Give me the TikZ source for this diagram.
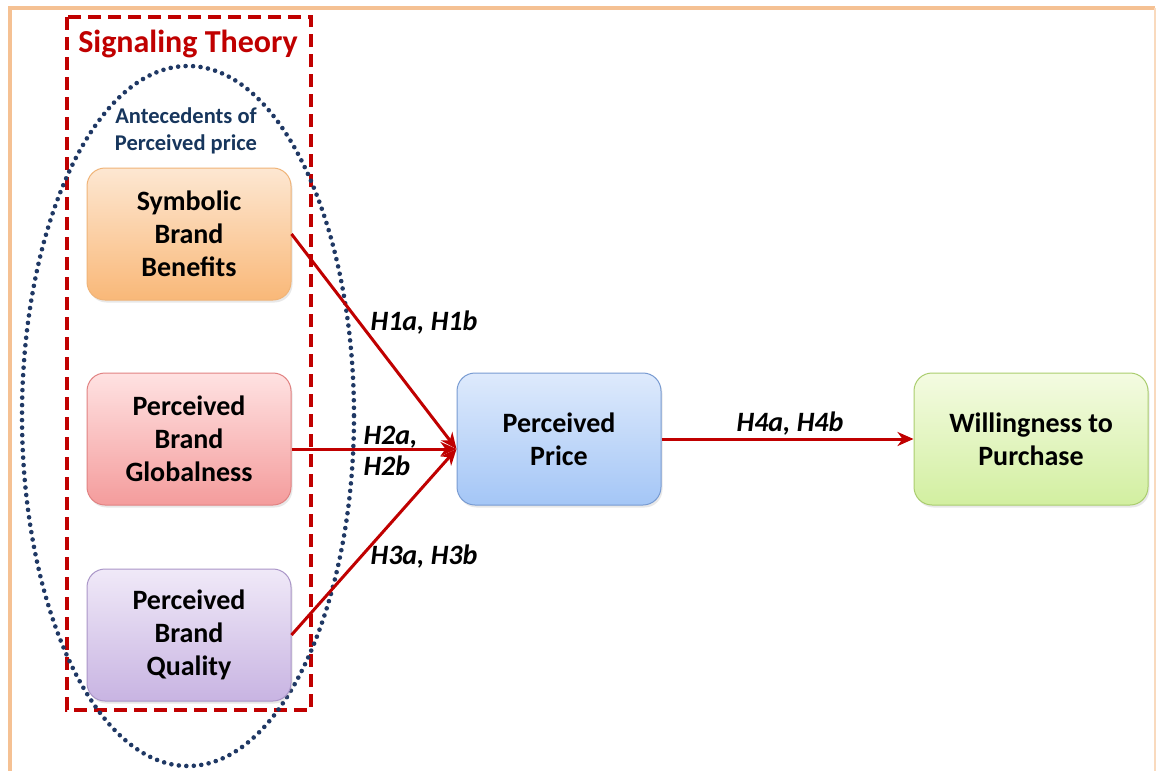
\documentclass[tikz,border=0pt]{standalone}
\usepackage{fontspec}
\setmainfont{Carlito}
\usetikzlibrary{arrows.meta,shadows}
\definecolor{framec}{RGB}{245,193,147}
\definecolor{darkred}{RGB}{192,0,0}
\definecolor{navy}{RGB}{31,56,100}
\definecolor{antec}{RGB}{23,54,93}
\definecolor{orD}{RGB}{240,180,120}
\definecolor{orT}{RGB}{253,231,210}
\definecolor{orB}{RGB}{249,184,120}
\definecolor{rdD}{RGB}{225,130,130}
\definecolor{rdT}{RGB}{255,226,226}
\definecolor{rdB}{RGB}{244,156,156}
\definecolor{puD}{RGB}{170,150,200}
\definecolor{puT}{RGB}{240,233,248}
\definecolor{puB}{RGB}{200,180,226}
\definecolor{blD}{RGB}{120,155,210}
\definecolor{blT}{RGB}{222,234,252}
\definecolor{blB}{RGB}{164,198,246}
\definecolor{grD}{RGB}{170,205,110}
\definecolor{grT}{RGB}{244,251,226}
\definecolor{grB}{RGB}{210,239,160}
\tikzset{
  box/.style={draw, rounded corners=18pt, minimum width=204pt, minimum height=132pt,
    align=center, font=\bfseries\fontsize{28}{33}\selectfont, text=black, line width=1pt,
    drop shadow={opacity=0.18, shadow xshift=1.5pt, shadow yshift=-2.5pt}},
  orangebox/.style={box, draw=orD, top color=orT, bottom color=orB},
  redbox/.style={box, draw=rdD, top color=rdT, bottom color=rdB},
  purplebox/.style={box, draw=puD, top color=puT, bottom color=puB},
  bluebox/.style={box, draw=blD, top color=blT, bottom color=blB},
  greenbox/.style={box, draw=grD, top color=grT, bottom color=grB},
  arr/.style={draw=darkred, line width=3pt, -{Stealth[length=16pt,width=14pt,inset=5pt]}},
  hlab/.style={font=\bfseries\itshape\fontsize{28}{31}\selectfont, text=black, align=left},
}
\begin{document}
\begin{tikzpicture}[x=1pt,y=-1pt]
\useasboundingbox (0,0) rectangle (1157,771);
\fill[white] (0,0) rectangle (1157,771);
% outer frame
\draw[framec, line width=3.5pt] (10,771) -- (10,8) -- (1155,8);
\draw[framec!60, line width=2pt] (1155,8) -- (1155,771);
% dashed signaling theory rectangle
\draw[darkred, line width=3.2pt, dash pattern=on 13pt off 7pt] (67,17) rectangle (311,710);
\node[text=darkred, font=\bfseries\fontsize{32}{34}\selectfont] (sig) at (188,44) {Signaling Theory};
% dotted ellipse
\draw[navy, line width=4.6pt, line cap=round, dash pattern=on 0pt off 7.5pt] (188,416) ellipse [x radius=166, y radius=350];
\node[text=antec, font=\bfseries\fontsize{22.5}{27}\selectfont, align=center] (ant) at (186,131) {Antecedents of\\Perceived price};
% boxes
\node[orangebox] (sym) at (189,234) {Symbolic\\Brand\\Benefits};
\node[redbox] (glob) at (189,439) {Perceived\\Brand\\Globalness};
\node[purplebox] (qual) at (189,635) {Perceived\\Brand\\Quality};
\node[bluebox] (price) at (559,439) {Perceived\\Price};
\node[greenbox, minimum width=234pt] (will) at (1031,439) {Willingness to\\Purchase};
% arrows
\coordinate (tip) at ([yshift=-10pt]price.west);
\coordinate (gstart) at ([yshift=-10pt]glob.east);
\draw[arr] (sym.east) -- (tip);
\draw[arr] (gstart) -- (tip);
\draw[arr] (qual.east) -- (tip);
\draw[arr] (price.east) -- (will.west);
% labels
\node[hlab] (h1) at (424,323) {H1a, H1b};
\node[hlab, anchor=west] (h2) at (360,451) {H2a,\\H2b};
\node[hlab] (h3) at (424,557) {H3a, H3b};
\node[hlab] (h4) at (790,424) {H4a, H4b};
\end{tikzpicture}
\end{document}
